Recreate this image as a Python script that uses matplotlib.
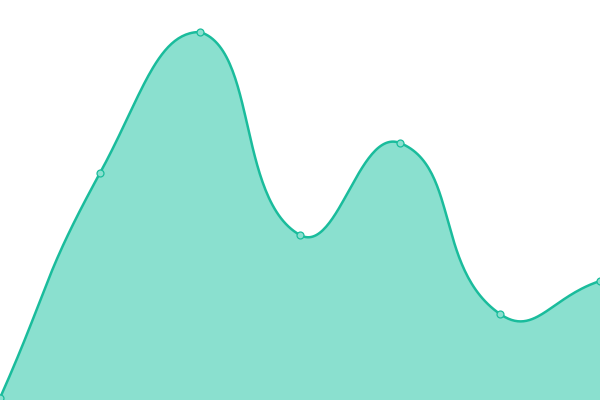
import numpy as np
import matplotlib
matplotlib.use("Agg")
import matplotlib.pyplot as plt

# data
categories = ["A", "B", "C", "D", "E", "F", "G"]
values = [2, 227, 368, 165, 257, 86, 119]

LINE = "#1abc9c"
FILL = "#8ae0cf"
SMOOTH = 0.5


def smooth_curve(px, py, smooth=SMOOTH, n=60):
    # bezier smoothing with control points from neighbours (echarts-like)
    pts = np.column_stack([px, py]).astype(float)
    k = len(pts)
    lo, hi = pts.min(axis=0), pts.max(axis=0)
    cps = []
    for i in range(k):
        prev = pts[max(i - 1, 0)]
        nxt = pts[min(i + 1, k - 1)]
        v = (nxt - prev) * smooth
        d0 = np.hypot(*(pts[i] - prev))
        d1 = np.hypot(*(pts[i] - nxt))
        s = d0 + d1
        if s:
            d0, d1 = d0 / s, d1 / s
        c0 = np.clip(pts[i] - v * d0, lo, hi)
        c1 = np.clip(pts[i] + v * d1, lo, hi)
        cps.append((c0, c1))
    t = np.linspace(0, 1, n)[:, None]
    out = [pts[:1]]
    for i in range(k - 1):
        p0, p3 = pts[i], pts[i + 1]
        p1, p2 = cps[i][1], cps[i + 1][0]
        seg = ((1 - t) ** 3 * p0 + 3 * (1 - t) ** 2 * t * p1
               + 3 * (1 - t) * t ** 2 * p2 + t ** 3 * p3)
        out.append(seg[1:])
    c = np.vstack(out)
    return c[:, 0], c[:, 1]


fig = plt.figure(figsize=(6, 4), dpi=100)
ax = fig.add_axes([0, 0, 1, 1])

x = np.arange(len(categories))
# smoothing distances are measured in screen pixels (100 px per category)
sx, sy = smooth_curve(x * 100.0, np.array(values, dtype=float))
sx = sx / 100.0

ax.fill_between(sx, sy, 0, color=FILL, linewidth=0)
ax.plot(sx, sy, color=LINE, linewidth=1.8, solid_capstyle="round")
ax.plot(x, values, "o", markersize=5, markerfacecolor=FILL,
        markeredgecolor=LINE, markeredgewidth=0.9, zorder=3)

ax.set_xlim(0, len(categories) - 1)
ax.set_ylim(0, 400)
ax.axis("off")

fig.savefig("out.png", dpi=100)
